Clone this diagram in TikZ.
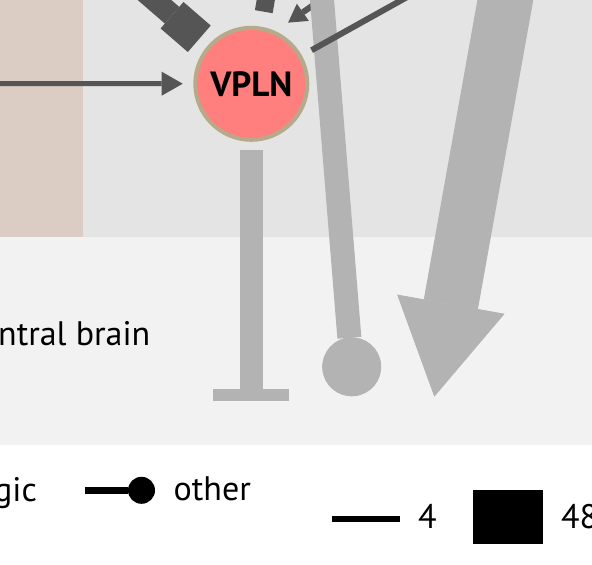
\documentclass[tikz,border=0pt]{standalone}
\usepackage{fontspec}
\setmainfont{PT Sans}
\usetikzlibrary{arrows.meta}
\definecolor{regiontan}{RGB}{219,205,196}
\definecolor{regionmid}{RGB}{228,228,228}
\definecolor{regionlow}{RGB}{242,242,242}
\definecolor{syndark}{RGB}{85,85,85}
\definecolor{synlight}{RGB}{179,179,179}
\definecolor{vplnred}{RGB}{255,127,127}
\definecolor{vplnrim}{RGB}{181,171,139}
\tikzstyle{neuron}=[circle,draw=vplnrim,line width=4pt,fill=vplnred,minimum size=112pt,inner sep=0pt,font=\fontsize{35}{42}\selectfont\bfseries]
\tikzstyle{darkedge}=[draw=syndark]
\tikzstyle{lightedge}=[draw=synlight]
\tikzstyle{legendline}=[draw=black]
\tikzstyle{legendtext}=[anchor=base west,inner sep=0pt,font=\fontsize{34}{40}\selectfont]

\begin{document}
\begin{tikzpicture}[x=1pt,y=-1pt]
    \useasboundingbox (0,0) rectangle (592,565);
    \fill[white] (0,0) rectangle (592,565);
    \fill[regionlow] (0,237.3) rectangle (592,444.7);
    \fill[regionmid] (0,0) rectangle (592,237.3);
    \fill[regiontan] (0,0) rectangle (82.7,237.3);

    \node[neuron] (vpln) at (251.3,83.8) {VPLN};

    \coordinate (inleft) at (-10,83.5);
    \coordinate (intopleft) at (62,-80);
    \coordinate (intop) at (272.3,-37.7);
    \coordinate (inright) at (386.7,-46.3);
    \coordinate (outright) at (470,-38);
    \coordinate (tbarend) at (251.3,401);
    \coordinate (passtop) at (318.8,-40);
    \coordinate (passend) at (354.1,396.2);
    \coordinate (bigtop) at (512.5,-40);
    \coordinate (bigend) at (434.3,396.7);

    \draw[darkedge,line width=6pt,shorten >=15pt,-{Triangle[length=18pt,width=21pt,line width=0pt]}] (inright) -- (vpln.65);
    \draw[darkedge,line width=22pt,shorten >=10.8pt,-{Rectangle[length=36pt,width=35pt,line width=0pt]}] (intopleft) -- (vpln);
    \draw[darkedge,line width=18pt,shorten >=15.2pt] (intop) -- (vpln);
    \draw[darkedge,line width=5pt,shorten >=10.6pt,-{Triangle[length=21pt,width=24pt,line width=0pt]}] (inleft) -- (vpln);

    \draw[lightedge,line width=23pt,shorten <=8.2pt,-{Rectangle[length=12.5pt,width=76pt,line width=0pt]}] (vpln) -- (tbarend);
    \draw[lightedge,line width=24pt,-{Circle[length=59pt,line width=0.8pt]}] (passtop) -- (passend);
    \draw[lightedge,line width=55pt,-{Triangle[length=94pt,width=109pt,line width=0.8pt]}] (bigtop) -- (bigend);

    \draw[darkedge,line width=6pt,shorten <=11pt] (vpln) -- (outright);

    \node[legendtext] (braintext) at (-2,345) {ntral brain};
    \node[legendtext] (gictext) at (-6,501) {gic};

    \coordinate (otherA) at (85,490.3);
    \coordinate (otherB) at (155,490.3);
    \draw[legendline,line width=7.3pt,-{Circle[length=27pt,line width=0pt]}] (otherA) -- (otherB);
    \node[legendtext] (othertext) at (173.5,500.7) {other};

    \coordinate (fourA) at (331.7,518.8);
    \coordinate (fourB) at (400,518.8);
    \draw[legendline,line width=5.5pt] (fourA) -- (fourB);
    \node[legendtext] (fourtext) at (418,528.3) {4};

    \coordinate (fortyA) at (473.3,517.2);
    \coordinate (fortyB) at (543.3,517.2);
    \draw[legendline,line width=54.3pt] (fortyA) -- (fortyB);
    \node[legendtext] (fortytext) at (561,528.3) {48};
\end{tikzpicture}
\end{document}
